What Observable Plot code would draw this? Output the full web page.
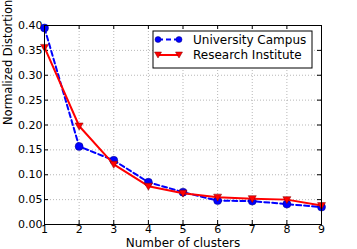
<!DOCTYPE html>
<html><head><meta charset="utf-8">
<script src="https://cdn.jsdelivr.net/npm/d3@7"></script>
<script src="https://cdn.jsdelivr.net/npm/@observablehq/plot@0.6"></script>
<style>body{margin:0;background:#fff;} svg{font-family:"DejaVu Sans",sans-serif;}</style>
</head><body><div id="chart"></div>
<script>
const clusters = [1, 2, 3, 4, 5, 6, 7, 8, 9];
const campus = [0.395, 0.157, 0.129, 0.085, 0.065, 0.048, 0.047, 0.041, 0.035];
const institute = [0.356, 0.198, 0.121, 0.077, 0.063, 0.055, 0.052, 0.050, 0.038];
const xTicks = [1, 2, 3, 4, 5, 6, 7, 8, 9];
const yTicks = [0, 0.05, 0.10, 0.15, 0.20, 0.25, 0.30, 0.35, 0.40];
const seriesNames = ["University Campus", "Research Institute"];

const campusData = clusters.map((c, i) => ({x: c, y: campus[i]}));
const instData = clusters.map((c, i) => ({x: c, y: institute[i]}));

function legend(index, scales, values, dims) {
  const g = d3.create("svg:g");
  const x0 = 153, y0 = 31, w = 159, h = 37;
  g.append("rect").attr("x", x0).attr("y", y0).attr("width", w).attr("height", h)
    .attr("fill", "white").attr("stroke", "black").attr("stroke-width", 1);
  const rows = [
    {y: 39.5, color: "blue", dash: "5,3", shape: "circle"},
    {y: 55, color: "red", dash: null, shape: "tri"}
  ];
  rows.forEach((r, i) => {
    g.append("line").attr("x1", 158).attr("x2", 179).attr("y1", r.y).attr("y2", r.y)
      .attr("stroke", r.color).attr("stroke-width", 2).attr("stroke-dasharray", r.dash);
    [158, 179].forEach(px => {
      if (r.shape === "circle") {
        g.append("circle").attr("cx", px).attr("cy", r.y).attr("r", 3)
          .attr("fill", "blue").attr("stroke", "#000080").attr("stroke-width", 0.5);
      } else {
        g.append("path").attr("d", `M${px-3.5},${r.y-3}L${px+3.5},${r.y-3}L${px},${r.y+3}Z`)
          .attr("fill", "red").attr("stroke", "#800000").attr("stroke-width", 0.5);
      }
    });
    g.append("text").attr("x", 193).attr("y", r.y).attr("dy", "0.35em")
      .attr("text-anchor", "start").attr("font-size", 12).attr("fill", "black").text(seriesNames[i]);
  });
  return g.node();
}

const tri = {draw(ctx, size) { const r = Math.sqrt(size / Math.PI); ctx.moveTo(-r, -r*0.75); ctx.lineTo(r, -r*0.75); ctx.lineTo(0, r); ctx.closePath(); }};

const chart = Plot.plot({
  width: 357, height: 249,
  marginLeft: 44, marginRight: 36, marginTop: 25, marginBottom: 25,
  style: {fontFamily: "DejaVu Sans, sans-serif", fontSize: "11px", background: "white", color: "black"},
  x: {domain: [1, 9]},
  y: {domain: [0, 0.4]},
  marks: [
    Plot.gridX(xTicks, {stroke: "#888", strokeOpacity: 1, strokeWidth: 0.6, strokeDasharray: "1,2"}),
    Plot.gridY(yTicks, {stroke: "#888", strokeOpacity: 1, strokeWidth: 0.6, strokeDasharray: "1,2"}),
    Plot.ruleX(xTicks, {y1: 0, y2: 0.008, stroke: "black"}),
    Plot.ruleX(xTicks, {y1: 0.4, y2: 0.392, stroke: "black"}),
    Plot.ruleY(yTicks, {x1: 1, x2: 1.116, stroke: "black"}),
    Plot.ruleY(yTicks, {x1: 9, x2: 8.884, stroke: "black"}),
    Plot.axisX(xTicks, {tickSize: 0, tickPadding: 1, tickFormat: d => d, fontSize: 11, label: null}),
    Plot.axisY(yTicks, {tickSize: 0, tickPadding: 2, tickFormat: d3.format(".2f"), fontSize: 11, label: null}),
    Plot.text(["Number of clusters"], {frameAnchor: "bottom", dy: 19, lineAnchor: "middle", fontSize: 12}),
    Plot.text(["Normalized Distortion"], {frameAnchor: "left", dx: -36, rotate: -90, fontSize: 11.5}),
    Plot.line(campusData, {x: "x", y: "y", stroke: "blue", strokeWidth: 2, strokeDasharray: "5,3"}),
    Plot.dot(campusData, {x: "x", y: "y", r: 4, fill: "blue", stroke: "#000080", strokeWidth: 0.5}),
    Plot.line(instData, {x: "x", y: "y", stroke: "red", strokeWidth: 2}),
    Plot.dot(instData, {x: "x", y: "y", r: 4, symbol: tri, fill: "red", stroke: "#800000", strokeWidth: 0.5}),
    Plot.frame({stroke: "black", strokeWidth: 1}),
    legend
  ]
});
document.getElementById("chart").appendChild(chart);
</script></body></html>
